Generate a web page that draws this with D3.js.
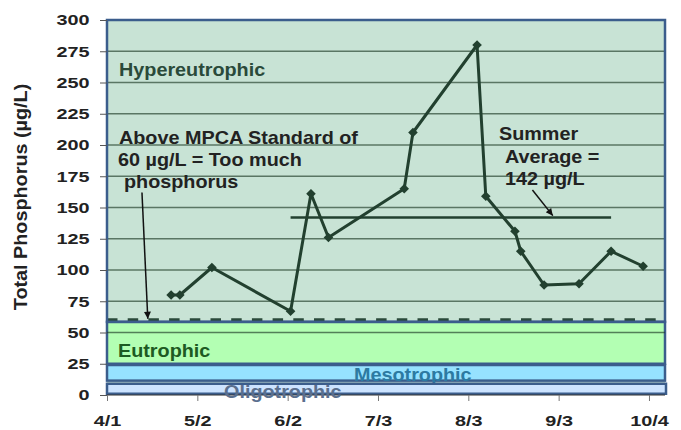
<!DOCTYPE html>
<html lang="en">
<head>
<meta charset="utf-8">
<title>Total Phosphorus</title>
<script src="https://d3js.org/d3.v7.min.js"></script>
<style>
  body { margin: 0; background: #fff; }
  text { font-family: "Liberation Sans", Arial, sans-serif; font-weight: bold; }
</style>
</head>
<body>
<script>
// sample dates and total phosphorus (ug/L)
var sampleDates = ["2009-04-23", "2009-04-26", "2009-05-07", "2009-06-03", "2009-06-10", "2009-06-16",
                   "2009-07-12", "2009-07-15", "2009-08-06", "2009-08-09", "2009-08-19", "2009-08-21",
                   "2009-08-29", "2009-09-10", "2009-09-21", "2009-10-02"];
var tpValues = [80, 80, 102, 67, 161, 126, 165, 210, 280, 159, 131, 115, 88, 89, 115, 103];

// summer average line
var summerAvg = 142;
var summerSpan = ["2009-06-03", "2009-09-21"];
var standard = 60;

// trophic zones (as drawn)
var zoneNames = ["Eutrophic", "Mesotrophic", "Oligotrophic"];
var zoneLow = [25, 11.5, 1];
var zoneHigh = [58.5, 24, 9];

var yTicks = d3.range(0, 301, 25);
var xTickDates = ["2009-04-01", "2009-05-02", "2009-06-02", "2009-07-03", "2009-08-03", "2009-09-03", "2009-10-04"];
var xTickLabels = ["4/1", "5/2", "6/2", "7/3", "8/3", "9/3", "10/4"];

var width = 681, height = 430;
var parse = d3.utcParse("%Y-%m-%d");
var pLeft = 107, pRight = 665, pTop = 20, pBottom = 395;

var svg = d3.select("body").append("svg")
    .attr("width", width)
    .attr("height", height);

var x = d3.scaleUtc()
    .domain([Date.UTC(2009, 3, 1), Date.UTC(2009, 9, 9, 12)])
    .range([pLeft, pRight]);
var y = d3.scaleLinear()
    .domain([0, 300])
    .range([pBottom, pTop]);

function day(s) { return parse(s); }

// stretched text helper
function label(px, py, str, size, fill, sx) {
    return svg.append("text")
        .attr("transform", "translate(" + px + "," + py + ") scale(" + sx + ",1)")
        .attr("font-size", size)
        .attr("fill", fill)
        .text(str);
}

// background (hypereutrophic)
svg.append("rect")
    .attr("x", pLeft).attr("y", pTop)
    .attr("width", pRight - pLeft).attr("height", pBottom - pTop)
    .attr("fill", "#c8e3d5");

// eutrophic band
svg.append("rect")
    .attr("x", pLeft).attr("y", y(zoneHigh[0]))
    .attr("width", pRight - pLeft).attr("height", y(zoneLow[0]) - y(zoneHigh[0]))
    .attr("fill", "#b3ffb3").attr("stroke", "#3b5d8c").attr("stroke-width", 2.5);

// gridlines
svg.append("g").selectAll("line")
    .data(yTicks.filter(function(d) { return d >= 50 && d < 300; }))
    .enter().append("line")
    .attr("x1", pLeft).attr("x2", pRight)
    .attr("y1", function(d) { return y(d); })
    .attr("y2", function(d) { return y(d); })
    .attr("stroke", "rgba(30,60,40,0.65)")
    .attr("stroke-width", 1.4);

// MPCA standard dashed line
svg.append("line")
    .attr("x1", pLeft).attr("x2", pRight)
    .attr("y1", y(standard)).attr("y2", y(standard))
    .attr("stroke", "#2a4a3a").attr("stroke-width", 3.6)
    .attr("stroke-dasharray", "10.5,10.2");

label(118, 357, "Eutrophic", 18, "#1d5a22", 1.1);

// mesotrophic band + label
svg.append("rect")
    .attr("x", pLeft).attr("y", y(zoneHigh[1]))
    .attr("width", pRight - pLeft).attr("height", y(zoneLow[1]) - y(zoneHigh[1]))
    .attr("fill", "#96e2ff").attr("stroke", "#3b5d8c").attr("stroke-width", 2.5);
label(354, 380.5, "Mesotrophic", 18, "#2c7aa2", 1.1);

// oligotrophic band
svg.append("rect")
    .attr("x", pLeft).attr("y", y(zoneHigh[2]))
    .attr("width", pRight - pLeft + 1).attr("height", y(zoneLow[2]) - y(zoneHigh[2]))
    .attr("fill", "#cce3ff").attr("stroke", "#3b5d8c").attr("stroke-width", 2.5);

// plot border
svg.append("rect")
    .attr("x", pLeft).attr("y", pTop)
    .attr("width", pRight - pLeft).attr("height", y(zoneHigh[0]) - pTop)
    .attr("fill", "none").attr("stroke", "#3b5d8c").attr("stroke-width", 2.5);

// axes
var yAxis = svg.append("g")
    .attr("transform", "translate(" + pLeft + ",0)")
    .call(d3.axisLeft(y).tickValues(yTicks).tickSize(7).tickPadding(10.5));
yAxis.select(".domain").remove();
yAxis.selectAll(".tick line").attr("stroke", "#555");
yAxis.selectAll(".tick text")
    .attr("x", -17.5 / 1.28)
    .attr("transform", "scale(1.28,1)")
    .attr("font-size", 15.5)
    .attr("font-family", "Liberation Sans, Arial, sans-serif")
    .attr("fill", "#222");

var xAxis = svg.append("g")
    .attr("transform", "translate(0," + pBottom + ")")
    .call(d3.axisBottom(x)
        .tickValues(xTickDates.map(day))
        .tickFormat(function(d, i) { return xTickLabels[i]; })
        .tickSize(6).tickPadding(14));
xAxis.select(".domain").attr("stroke", "#333").attr("d", "M" + pLeft + ",0H" + pRight);
xAxis.selectAll(".tick line").attr("stroke", "#777");
xAxis.selectAll(".tick text")
    .attr("transform", "scale(1.28,1)")
    .attr("font-size", 15.5)
    .attr("font-family", "Liberation Sans, Arial, sans-serif")
    .attr("fill", "#222");

label(224, 398, "Oligotrophic", 18, "#5a6f8e", 1.1);

// summer average line
svg.append("line")
    .attr("x1", x(day(summerSpan[0]))).attr("x2", x(day(summerSpan[1])))
    .attr("y1", y(summerAvg)).attr("y2", y(summerAvg))
    .attr("stroke", "#22402f").attr("stroke-width", 2.5);

// phosphorus series
var pts = sampleDates.map(function(d, i) { return [x(day(d)), y(tpValues[i])]; });
svg.append("path")
    .attr("d", d3.line()(pts))
    .attr("fill", "none")
    .attr("stroke", "#22402f")
    .attr("stroke-width", 3)
    .attr("stroke-linejoin", "round");
svg.append("g").selectAll("path")
    .data(pts)
    .enter().append("path")
    .attr("d", d3.symbol(d3.symbolSquare, 46))
    .attr("transform", function(d) { return "translate(" + d[0] + "," + d[1] + ") rotate(45)"; })
    .attr("fill", "#22402f");

// annotations
label(119, 76, "Hypereutrophic", 18, "#2a4a3a", 1.1);
label(119, 143.5, "Above MPCA Standard of", 18, "#222", 1.1);
label(118, 166, "60 \u00b5g/L = Too much", 18, "#222", 1.1);
label(124, 187.5, "phosphorus", 18, "#222", 1.1);
label(499, 139.5, "Summer", 18, "#222", 1.1);
label(505, 162.5, "Average =", 18, "#222", 1.1);
label(505, 185, "142 \u00b5g/L", 18, "#222", 1.1);

svg.append("defs").append("marker")
    .attr("id", "head")
    .attr("viewBox", "0 0 10 10")
    .attr("refX", 10).attr("refY", 5)
    .attr("markerWidth", 9).attr("markerHeight", 7)
    .attr("markerUnits", "userSpaceOnUse")
    .attr("orient", "auto")
    .append("path").attr("d", "M0,0L10,5L0,10Z").attr("fill", "#111");

svg.append("line")
    .attr("x1", x(day("2009-04-13"))).attr("y1", y(162))
    .attr("x2", x(day("2009-04-15"))).attr("y2", y(61))
    .attr("stroke", "#111").attr("stroke-width", 1.5)
    .attr("marker-end", "url(#head)");
svg.append("line")
    .attr("x1", x(day("2009-08-25"))).attr("y1", y(164))
    .attr("x2", x(day("2009-09-01"))).attr("y2", y(143.5))
    .attr("stroke", "#111").attr("stroke-width", 1.5)
    .attr("marker-end", "url(#head)");

// y title
svg.append("text")
    .attr("transform", "translate(27,197) rotate(-90) scale(1.1,1)")
    .attr("text-anchor", "middle")
    .attr("font-size", 18)
    .attr("fill", "#222")
    .text("Total Phosphorus (\u00b5g/L)");
</script>
</body>
</html>
